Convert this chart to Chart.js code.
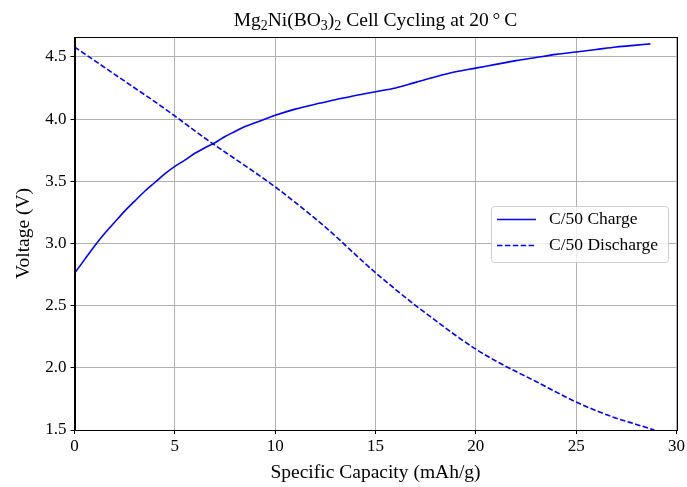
<!DOCTYPE html>
<html>
<head>
<meta charset="utf-8">
<script src="https://cdn.jsdelivr.net/npm/chart.js@4.4.1/dist/chart.umd.min.js"></script>
<style>
html,body{margin:0;padding:0;background:#fff;}
#wrap{width:687px;height:487px;position:relative;}
</style>
</head>
<body>
<div id="wrap"><canvas id="c" width="687" height="487"></canvas></div>
<script>
const chargeX = [0, 0.5, 1, 1.5, 2, 2.5, 3, 3.5, 4, 4.5, 5, 5.5, 6, 6.5, 7, 7.5, 8, 8.5, 9, 9.5, 10, 11, 12, 13, 14, 15, 16, 17, 18, 19, 20, 21, 22, 23, 24, 25, 26, 27, 28, 28.7];
const chargeV = [2.76, 2.87, 2.98, 3.08, 3.17, 3.26, 3.34, 3.42, 3.49, 3.56, 3.62, 3.67, 3.725, 3.77, 3.81, 3.86, 3.90, 3.94, 3.97, 4.00, 4.03, 4.08, 4.12, 4.155, 4.19, 4.22, 4.25, 4.295, 4.34, 4.38, 4.41, 4.44, 4.47, 4.495, 4.52, 4.54, 4.56, 4.58, 4.595, 4.605];
const dischargeX = [0, 1, 2, 3, 4, 5, 6, 7, 8, 9, 10, 11, 12, 13, 14, 15, 16, 17, 18, 19, 20, 21, 22, 23, 24, 25, 26, 27, 28, 28.9];
const dischargeV = [4.58, 4.47, 4.36, 4.25, 4.14, 4.025, 3.905, 3.79, 3.68, 3.57, 3.455, 3.33, 3.20, 3.06, 2.91, 2.765, 2.63, 2.50, 2.38, 2.26, 2.15, 2.055, 1.97, 1.89, 1.805, 1.725, 1.655, 1.595, 1.545, 1.50];
const xTicks = [0, 5, 10, 15, 20, 25, 30];
const yTicks = [1.5, 2.0, 2.5, 3.0, 3.5, 4.0, 4.5];
const seriesLabels = ['C/50 Charge', 'C/50 Discharge'];
const titleParts = [['Mg',0],['2',1],['Ni(BO',0],['3',1],[')',0],['2',1],[' Cell Cycling at 20\u2009\u00b0\u2009C',0]];
const xLabel = 'Specific Capacity (mAh/g)';
const yLabel = 'Voltage (V)';

const FONT = "'Liberation Serif', 'Times New Roman', serif";

const framePlugin = {
  id: 'frame',
  afterDraw(chart) {
    const {ctx, chartArea: a} = chart;
    ctx.save();
    ctx.strokeStyle = '#000';
    ctx.lineWidth = 1;
    ctx.strokeRect(Math.round(a.left) + 0.5, Math.round(a.top) + 0.5, Math.round(a.right - a.left), Math.round(a.bottom - a.top));
    // title with subscripts
    const big = 19.5, small = 14;
    let total = 0;
    for (const [t, s] of titleParts) {
      ctx.font = (s ? small : big) + 'px ' + FONT;
      total += ctx.measureText(t).width;
    }
    let x = (a.left + a.right) / 2 - total / 2;
    const base = 26;
    ctx.fillStyle = '#000';
    ctx.textBaseline = 'alphabetic';
    ctx.textAlign = 'left';
    for (const [t, s] of titleParts) {
      ctx.font = (s ? small : big) + 'px ' + FONT;
      ctx.fillText(t, x, s ? base + 4 : base);
      x += ctx.measureText(t).width;
    }
    // legend
    const bx = 491.5, by = 206.5, bw = 177, bh = 56;
    ctx.fillStyle = 'rgba(255,255,255,0.8)';
    ctx.strokeStyle = '#cccccc';
    ctx.beginPath();
    ctx.roundRect(bx, by, bw, bh, 3);
    ctx.fill();
    ctx.stroke();
    chart.data.datasets.forEach((ds, i) => {
      const y = 219.5 + i * 26;
      ctx.strokeStyle = ds.borderColor;
      ctx.lineWidth = ds.borderWidth;
      ctx.setLineDash(ds.borderDash || []);
      ctx.beginPath();
      ctx.moveTo(497, y);
      ctx.lineTo(536, y);
      ctx.stroke();
      ctx.setLineDash([]);
      ctx.fillStyle = '#000';
      ctx.font = '17.5px ' + FONT;
      ctx.textBaseline = 'middle';
      ctx.fillText(ds.label, 549, y);
    });
    ctx.restore();
  }
};

new Chart(document.getElementById('c'), {
  type: 'line',
  data: {
    datasets: [
      {
        label: seriesLabels[0],
        data: chargeX.map((x, i) => ({x, y: chargeV[i]})),
        borderColor: '#0000ff',
        borderWidth: 1.6,
        pointRadius: 0,
        tension: 0.3,
        cubicInterpolationMode: 'monotone',
        fill: false
      },
      {
        label: seriesLabels[1],
        data: dischargeX.map((x, i) => ({x, y: dischargeV[i]})),
        borderColor: '#0000ff',
        borderWidth: 1.6,
        borderDash: [5.5, 2.4],
        pointRadius: 0,
        tension: 0.3,
        cubicInterpolationMode: 'monotone',
        fill: false
      }
    ]
  },
  options: {
    responsive: false,
    animation: false,
    devicePixelRatio: 1,
    layout: {padding: {top: 37, right: 9, left: 0, bottom: 0}},
    plugins: {legend: {display: false}, title: {display: false}, tooltip: {enabled: false}},
    scales: {
      x: {
        type: 'linear',
        min: 0, max: 30,
        afterBuildTicks: s => { s.ticks = xTicks.map(v => ({value: v})); },
        afterFit: s => { s.height = 57; },
        grid: {color: '#b0b0b0', lineWidth: 1, tickColor: '#000', tickLength: 4},
        border: {display: true, color: '#000'},
        ticks: {color: '#000', font: {family: FONT, size: 17}, padding: 2, maxRotation: 0},
        title: {display: true, text: xLabel, color: '#000', font: {family: FONT, size: 19.5}, padding: {bottom: 2}}
      },
      y: {
        type: 'linear',
        min: 1.5, max: 4.66,
        afterBuildTicks: s => { s.ticks = yTicks.map(v => ({value: v})); },
        afterFit: s => { s.width = 74.5; },
        grid: {color: '#b0b0b0', lineWidth: 1, tickColor: '#000', tickLength: 4},
        border: {display: true, color: '#000'},
        ticks: {color: '#000', font: {family: FONT, size: 17}, padding: 4, callback: v => Number(v).toFixed(1)},
        title: {display: true, text: yLabel, color: '#000', font: {family: FONT, size: 19.5}, padding: {top: 12}}
      }
    }
  },
  plugins: [framePlugin]
});
</script>
</body>
</html>
